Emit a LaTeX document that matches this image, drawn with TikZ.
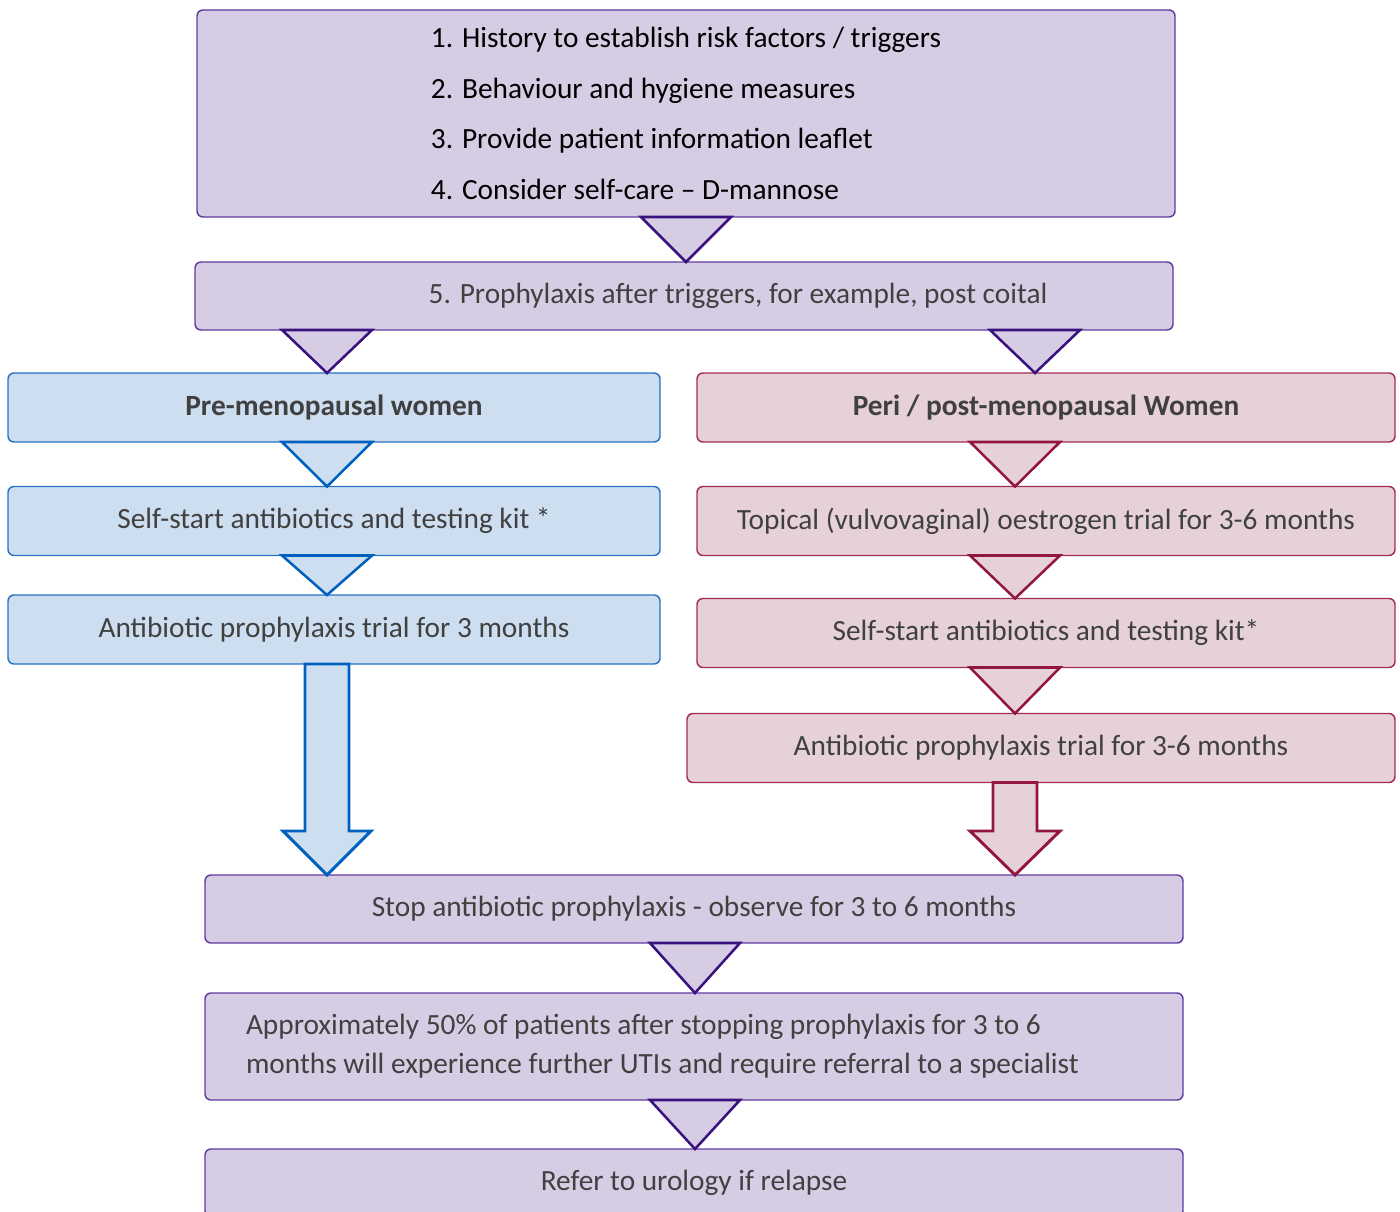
\documentclass[tikz,border=0pt]{standalone}
\usepackage{fontspec}
\setmainfont{Carlito}
\usetikzlibrary{calc}

\definecolor{textgray}{RGB}{64,64,64}
\definecolor{lilacfill}{RGB}{214,205,228}
\definecolor{lilacline}{RGB}{96,58,160}
\definecolor{lilactri}{RGB}{58,18,128}
\definecolor{bluefill}{RGB}{205,222,240}
\definecolor{blueline}{RGB}{38,114,196}
\definecolor{bluetri}{RGB}{0,96,190}
\definecolor{pinkfill}{RGB}{231,209,217}
\definecolor{pinkline}{RGB}{166,42,86}
\definecolor{pinktri}{RGB}{146,22,62}

% triangle from box #1 down to box #2, centred on coordinate #3
\newcommand\downtri[4]{\draw[#4] ($(#1.south -| #3)+(-45,0)$) -- ($(#1.south -| #3)+(45,0)$) -- (#2.north -| #3) -- cycle;}

\begin{document}
\begin{tikzpicture}[x=0.75pt, y=-0.75pt,
  box/.style={draw, rounded corners=4.5pt, line width=1.1pt, outer sep=0pt, inner sep=0pt,
    font=\fontsize{22}{27}\selectfont, text=textgray},
  lilac/.style={box, fill=lilacfill, draw=lilacline},
  blue/.style={box, fill=bluefill, draw=blueline, minimum width=489pt, minimum height=51.75pt},
  pink/.style={box, fill=pinkfill, draw=pinkline, minimum width=523.5pt, minimum height=51.75pt},
  wide/.style={minimum width=733.5pt, minimum height=51pt},
  tri/.style={line width=1.9pt, line join=miter},
  ltri/.style={tri, fill=lilacfill, draw=lilactri},
  btri/.style={tri, fill=bluefill, draw=bluetri},
  rtri/.style={tri, fill=pinkfill, draw=pinktri},
  big/.style={line width=2.2pt, line join=miter}]
\useasboundingbox (0,0) rectangle (1400,1212);

% boxes
\node[lilac, wide, minimum height=155.25pt, align=left, text=black,
  font=\fontsize{22}{37.9}\selectfont] (steps) at (686,113.5)
  {1. History to establish risk factors / triggers\\
   2. Behaviour and hygiene measures\\
   3. Provide patient information leaflet\\
   4. Consider self-care -- D-mannose};
\node[lilac, wide] (proph) at (684,296)
  {\hspace*{81pt}5. Prophylaxis after triggers, for example, post coital};

\node[blue, font=\fontsize{22}{27}\selectfont\bfseries] (pre) at (334,407.5) {Pre-menopausal women};
\node[blue] (kitA) at (334,521) {Self-start antibiotics and testing kit *};
\node[blue] (trialA) at (334,629.5) {Antibiotic prophylaxis trial for 3 months};

\node[pink, font=\fontsize{22}{27}\selectfont\bfseries] (peri) at (1046,407.5) {Peri / post-menopausal Women};
\node[pink] (topical) at (1046,521) {Topical (vulvovaginal) oestrogen trial for 3-6 months};
\node[pink] (kitB) at (1046,633) {Self-start antibiotics and testing kit*};
\node[pink, minimum width=531pt] (trialB) at (1041,748) {Antibiotic prophylaxis trial for 3-6 months};

\node[lilac, wide] (stop) at (694,909) {Stop antibiotic prophylaxis - observe for 3 to 6 months};
\node[lilac, wide, minimum height=80.25pt, text width=672pt, inner xsep=30.75pt, align=flush left,
  font=\fontsize{22}{29.25}\selectfont] (approx) at (694,1046.5)
  {Approximately 50\% of patients after stopping prophylaxis for 3 to 6\\
   months will experience further UTIs and require referral to a specialist};
\node[lilac, wide] (refer) at (694,1183) {Refer to urology if relapse};

% x positions of the arrows
\coordinate (xa) at (686,0);
\coordinate (xl) at (327,0);
\coordinate (xr) at (1035,0);
\coordinate (xp) at (1015,0);
\coordinate (xb) at (695,0);

% triangles
\downtri{steps}{proph}{xa}{ltri}
\downtri{proph}{pre}{xl}{ltri}
\downtri{proph}{peri}{xr}{ltri}
\downtri{pre}{kitA}{xl}{btri}
\downtri{kitA}{trialA}{xl}{btri}
\downtri{peri}{topical}{xp}{rtri}
\downtri{topical}{kitB}{xp}{rtri}
\downtri{kitB}{trialB}{xp}{rtri}
\downtri{stop}{approx}{xb}{ltri}
\downtri{approx}{refer}{xb}{ltri}

% block arrows
\draw[big, fill=bluefill, draw=bluetri] ($(trialA.south -| xl)+(-22,0)$) -- ($(trialA.south -| xl)+(22,0)$)
  -- ($(stop.north -| xl)+(22,-44)$) -- ($(stop.north -| xl)+(44,-44)$) -- (stop.north -| xl)
  -- ($(stop.north -| xl)+(-44,-44)$) -- ($(stop.north -| xl)+(-22,-44)$) -- cycle;
\draw[big, fill=pinkfill, draw=pinktri] ($(trialB.south -| xp)+(-22,0)$) -- ($(trialB.south -| xp)+(22,0)$)
  -- ($(stop.north -| xp)+(22,-44)$) -- ($(stop.north -| xp)+(45,-44)$) -- (stop.north -| xp)
  -- ($(stop.north -| xp)+(-45,-44)$) -- ($(stop.north -| xp)+(-22,-44)$) -- cycle;
\end{tikzpicture}
\end{document}
